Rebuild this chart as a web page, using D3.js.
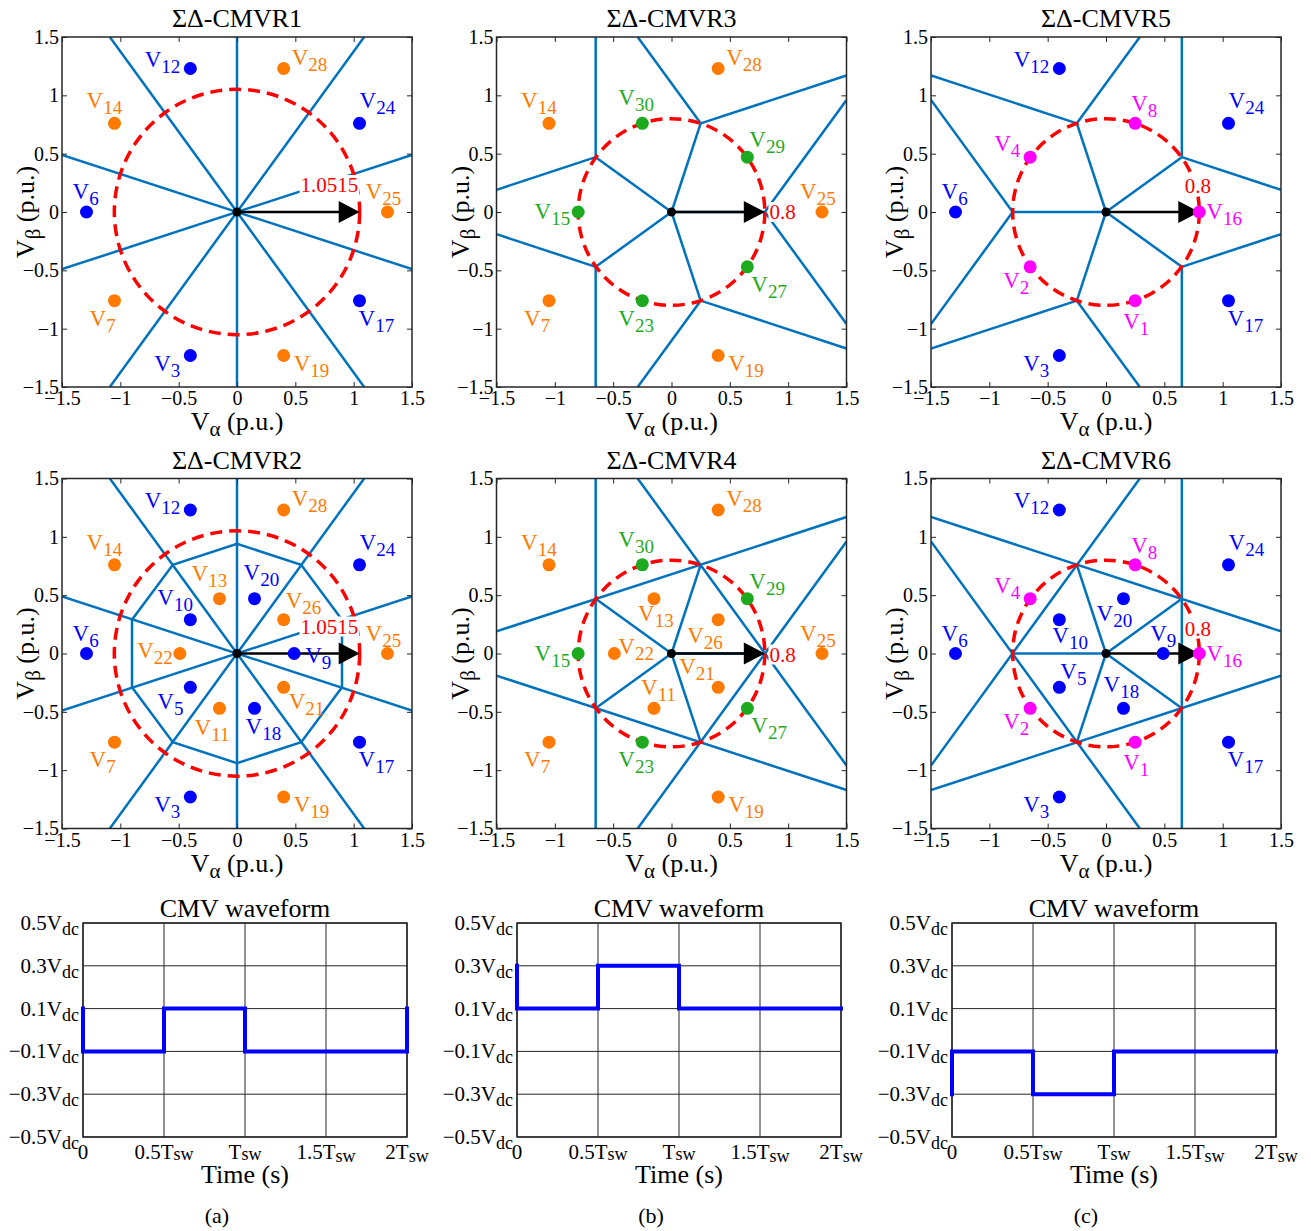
<!DOCTYPE html>
<html lang="en">

<head>
    <meta charset="UTF-8">
    <title>Sigma-Delta CMVR sector maps and CMV waveforms</title>
    <script src="https://d3js.org/d3.v7.min.js"></script>
    <style>
        body { margin: 0; background: #fff; }
        text { font-family: "Liberation Serif", "Times New Roman", serif; }
    </style>
</head>

<body>
    <script>
        // ---- data (p.u.) ----
        const largeBlue = [["V24", 1.05, 0.76], ["V12", -0.40, 1.23], ["V6", -1.29, 0], ["V3", -0.40, -1.23], ["V17", 1.05, -0.76]];
        const largeOrange = [["V25", 1.29, 0], ["V28", 0.40, 1.23], ["V14", -1.05, 0.76], ["V7", -1.05, -0.76], ["V19", 0.40, -1.23]];
        const mediumGreen = [["V29", 0.65, 0.47], ["V30", -0.25, 0.76], ["V15", -0.80, 0], ["V23", -0.25, -0.76], ["V27", 0.65, -0.47]];
        const mediumMagenta = [["V16", 0.80, 0], ["V8", 0.25, 0.76], ["V4", -0.65, 0.47], ["V2", -0.65, -0.47], ["V1", 0.25, -0.76]];
        const smallBlue = [["V9", 0.49, 0], ["V20", 0.15, 0.47], ["V10", -0.40, 0.29], ["V5", -0.40, -0.29], ["V18", 0.15, -0.47]];
        const smallOrange = [["V26", 0.40, 0.29], ["V13", -0.15, 0.47], ["V22", -0.49, 0], ["V11", -0.15, -0.47], ["V21", 0.40, -0.29]];

        // sector boundaries [x1, y1, x2, y2]
        const radialLines = [[-1.5, -0.49, 1.5, 0.49], [-1.09, -1.5, 1.09, 1.5], [0, -1.5, 0, 1.5], [-1.09, 1.5, 1.09, -1.5], [-1.5, 0.49, 1.5, -0.49]];
        const decagon = [[0.90, 0.29], [0.55, 0.76], [0, 0.94], [-0.55, 0.76], [-0.90, 0.29], [-0.90, -0.29], [-0.55, -0.76], [0, -0.94], [0.55, -0.76], [0.90, -0.29]];
        const cornersA = [[0.80, 0], [0.25, 0.76], [-0.65, 0.47], [-0.65, -0.47], [0.25, -0.76]];
        const cornersB = [[0.65, 0.47], [-0.25, 0.76], [-0.80, 0], [-0.25, -0.76], [0.65, -0.47]];
        const outerA = [[0.80, 0, 1.5, 0.96], [0.80, 0, 1.5, -0.96], [0.25, 0.76, -0.29, 1.5], [0.25, 0.76, 1.5, 1.17],
            [-0.65, 0.47, -0.65, 1.5], [-0.65, 0.47, -1.5, 0.19], [-0.65, -0.47, -0.65, -1.5], [-0.65, -0.47, -1.5, -0.19],
            [0.25, -0.76, -0.29, -1.5], [0.25, -0.76, 1.5, -1.17]];
        const starA = [[-0.29, 1.5, 1.5, -0.96], [-0.29, -1.5, 1.5, 0.96], [-1.5, 0.19, 1.5, 1.17], [-1.5, -0.19, 1.5, -1.17], [-0.65, -1.5, -0.65, 1.5]];
        const outerB = [[0.65, 0.47, 0.65, 1.5], [0.65, 0.47, 1.5, 0.19], [-0.25, 0.76, 0.29, 1.5], [-0.25, 0.76, -1.5, 1.17],
            [-0.80, 0, -1.5, 0.96], [-0.80, 0, -1.5, -0.96], [-0.25, -0.76, 0.29, -1.5], [-0.25, -0.76, -1.5, -1.17],
            [0.65, -0.47, 0.65, -1.5], [0.65, -0.47, 1.5, -0.19]];
        const starB = [[0.65, -1.5, 0.65, 1.5], [-1.5, 1.17, 1.5, 0.19], [-1.5, -1.17, 1.5, -0.19], [0.29, 1.5, -1.5, -0.96], [0.29, -1.5, -1.5, 0.96]];

        const vecTicks = [-1.5, -1, -0.5, 0, 0.5, 1, 1.5];

        // CMV waveforms (time in Tsw, level in Vdc)
        const cmvTimeA = [0, 0, 0.5, 0.5, 1, 1, 2, 2];
        const cmvLevelA = [0.1, -0.1, -0.1, 0.1, 0.1, -0.1, -0.1, 0.1];
        const cmvTimeB = [0, 0, 0.5, 0.5, 1, 1, 2];
        const cmvLevelB = [0.3, 0.1, 0.1, 0.3, 0.3, 0.1, 0.1];
        const cmvTimeC = [0, 0, 0.5, 0.5, 1, 1, 2];
        const cmvLevelC = [-0.3, -0.1, -0.1, -0.3, -0.3, -0.1, -0.1];
        const cmvYTicks = [-0.5, -0.3, -0.1, 0.1, 0.3, 0.5];
        const timeTicks = [0, 0.5, 1, 1.5, 2];
        const timeTickMain = ["0", "0.5T", "T", "1.5T", "2T"];
        const timeTickSub = ["", "sw", "sw", "sw", "sw"];

        // ---- styles / layout ----
        const colors = { blue: "#0000ff", orange: "#ff7a00", green: "#1eaa1e", magenta: "#ff00ff", line: "#0072bd", red: "#ff0000" };
        const S = 350;
        const fmt = v => v < 0 ? "\u2212" + Math.abs(v) : String(v);

        // label placement: [anchor, dx, dy] from dot centre (px)
        const largeOffsets = {
            V12: ["end", -10, -2], V28: ["start", 8, -4], V24: ["start", 0, -15], V14: ["start", -28, -15],
            V6: ["start", -14, -13], V25: ["start", -22, -13], V7: ["start", -25, 25], V17: ["start", -1, 25],
            V3: ["end", -10, 15], V19: ["start", 10, 15]
        };
        const greenOffsets = { V30: ["start", -24, -18], V29: ["start", 2, -10], V15: ["end", -8, 7], V27: ["start", 4, 25], V23: ["start", -24, 25] };
        const magentaOffsets = { V8: ["start", -4, -12], V4: ["start", -36, -6], V16: ["start", 7, 7], V2: ["start", -27, 21], V1: ["start", -12, 28] };
        const small2Offsets = {
            V13: ["start", -28, -18], V20: ["start", -11, -19], V10: ["start", -33, -15], V26: ["start", 2, -12], V22: ["end", -7, 4],
            V9: ["start", 11, 9], V5: ["start", -33, 22], V21: ["start", 5, 22], V11: ["start", -25, 27], V18: ["start", -9, 26]
        };
        const small4Offsets = { V13: ["start", -16, 22], V26: ["start", -31, 23], V22: ["start", 4, 0], V21: ["start", -39, -13], V11: ["start", -13, -13] };
        const small6Offsets = { V20: ["start", -27, 22], V10: ["start", -7, 23], V9: ["start", -13, -13], V5: ["start", 1, -8], V18: ["start", -20, -16] };

        const panels = [
            { title: "ΣΔ-CMVR1", x0: 62, y0: 37, groups: [[largeBlue, "blue"], [largeOrange, "orange"]], segs: radialLines, rays: [], poly: null,
              radius: 1.0515, value: "1.0515", vx: 1.04, vdy: -20, vanchor: "end", offsets: [largeOffsets] },
            { title: "ΣΔ-CMVR3", x0: 496.5, y0: 37, groups: [[largeOrange, "orange"], [mediumGreen, "green"]], segs: outerA, rays: cornersA, poly: null,
              radius: 0.8, value: "0.8", vx: 0.84, vdy: 7, vanchor: "start", offsets: [largeOffsets, greenOffsets] },
            { title: "ΣΔ-CMVR5", x0: 931, y0: 37, groups: [[largeBlue, "blue"], [mediumMagenta, "magenta"]], segs: outerB, rays: cornersB, poly: null,
              radius: 0.8, value: "0.8", vx: 0.675, vdy: -19, vanchor: "start", offsets: [largeOffsets, magentaOffsets] },
            { title: "ΣΔ-CMVR2", x0: 62, y0: 478.5, groups: [[largeBlue, "blue"], [largeOrange, "orange"], [smallBlue, "blue"], [smallOrange, "orange"]],
              segs: radialLines, rays: [], poly: decagon, radius: 1.0515, value: "1.0515", vx: 1.04, vdy: -20, vanchor: "end", offsets: [largeOffsets, small2Offsets] },
            { title: "ΣΔ-CMVR4", x0: 496.5, y0: 478.5, groups: [[largeOrange, "orange"], [mediumGreen, "green"], [smallOrange, "orange"]],
              segs: starA, rays: cornersA, poly: null, radius: 0.8, value: "0.8", vx: 0.84, vdy: 8, vanchor: "start", offsets: [largeOffsets, greenOffsets, small4Offsets] },
            { title: "ΣΔ-CMVR6", x0: 931, y0: 478.5, groups: [[largeBlue, "blue"], [mediumMagenta, "magenta"], [smallBlue, "blue"]],
              segs: starB, rays: cornersB, poly: null, radius: 0.8, value: "0.8", vx: 0.675, vdy: -18, vanchor: "start", offsets: [largeOffsets, magentaOffsets, small6Offsets] }
        ];

        const svg = d3.select("body").append("svg").attr("width", 1311).attr("height", 1231);

        function vLabel(g, x, y, name, anchor, color) {
            const t = g.append("text").attr("x", x).attr("y", y).attr("text-anchor", anchor)
                .attr("fill", color).style("font-size", "23px");
            t.append("tspan").text("V");
            t.append("tspan").attr("dy", 6).style("font-size", "19px").text(name.slice(1));
        }

        panels.forEach((p, pi) => {
            const g = svg.append("g").attr("transform", "translate(" + p.x0 + "," + p.y0 + ")");
            const x = d3.scaleLinear().domain([-1.5, 1.5]).range([0, S]);
            const y = d3.scaleLinear().domain([-1.5, 1.5]).range([S, 0]);

            g.append("clipPath").attr("id", "clip" + pi).append("rect").attr("width", S).attr("height", S);
            const plot = g.append("g").attr("clip-path", "url(#clip" + pi + ")");

            // boundaries
            const allSegs = p.segs.concat(p.rays.map(c => [0, 0, c[0], c[1]]));
            plot.selectAll("line.seg").data(allSegs).enter().append("line")
                .attr("x1", d => x(d[0])).attr("y1", d => y(d[1]))
                .attr("x2", d => x(d[2])).attr("y2", d => y(d[3]))
                .attr("stroke", colors.line).attr("stroke-width", 2.5);
            if (p.poly) {
                plot.append("path")
                    .attr("d", d3.line().x(d => x(d[0])).y(d => y(d[1])).curve(d3.curveLinearClosed)(p.poly))
                    .attr("fill", "none").attr("stroke", colors.line).attr("stroke-width", 2.5);
            }

            // reference circle
            plot.append("circle").attr("cx", x(0)).attr("cy", y(0)).attr("r", x(p.radius) - x(0))
                .attr("fill", "none").attr("stroke", colors.red).attr("stroke-width", 3.5)
                .attr("stroke-dasharray", "12 7");

            // arrow
            const tip = x(p.radius);
            g.append("line").attr("x1", x(0)).attr("y1", y(0)).attr("x2", tip - 18).attr("y2", y(0))
                .attr("stroke", "#000").attr("stroke-width", 2.5);
            g.append("path").attr("d", "M" + tip + "," + y(0) + "L" + (tip - 21) + "," + (y(0) - 11) + "L" + (tip - 21) + "," + (y(0) + 11) + "Z")
                .attr("fill", "#000");
            g.append("circle").attr("cx", x(0)).attr("cy", y(0)).attr("r", 4.5).attr("fill", "#000");

            // value label with white background
            const vt = g.append("text").attr("x", x(p.vx)).attr("y", y(0) + p.vdy).attr("text-anchor", p.vanchor)
                .attr("fill", colors.red).style("font-size", "21px").text(p.value);
            const bb = vt.node().getBBox();
            g.insert("rect", function () { return vt.node(); })
                .attr("x", bb.x - 1).attr("y", bb.y + 2).attr("width", bb.width + 2).attr("height", bb.height - 4)
                .attr("fill", "#fff");

            // vectors
            const offs = Object.assign({}, ...p.offsets);
            p.groups.forEach(([vecs, col]) => {
                g.selectAll(null).data(vecs).enter().append("circle")
                    .attr("cx", d => x(d[1])).attr("cy", d => y(d[2])).attr("r", 6.5).attr("fill", colors[col]);
                vecs.forEach(d => {
                    const o = offs[d[0]];
                    vLabel(g, x(d[1]) + o[1], y(d[2]) + o[2], d[0], o[0], colors[col]);
                });
            });

            // axes (MATLAB style, inward ticks)
            const tickStyle = sel => {
                sel.select(".domain").remove();
                sel.selectAll(".tick line").attr("stroke", "#262626");
                sel.selectAll(".tick text").style("font-size", "20px").attr("fill", "#000");
            };
            g.append("g").attr("transform", "translate(0," + S + ")")
                .call(d3.axisBottom(x).tickValues(vecTicks).tickFormat(fmt).tickSizeInner(-5).tickSizeOuter(0).tickPadding(4))
                .call(tickStyle);
            g.append("g")
                .call(d3.axisLeft(y).tickValues(vecTicks).tickFormat(fmt).tickSizeInner(-5).tickSizeOuter(0).tickPadding(3))
                .call(tickStyle);
            g.append("g").call(d3.axisTop(x).tickValues(vecTicks).tickFormat("").tickSizeInner(-5).tickSizeOuter(0)).call(tickStyle);
            g.append("g").attr("transform", "translate(" + S + ",0)")
                .call(d3.axisRight(y).tickValues(vecTicks).tickFormat("").tickSizeInner(-5).tickSizeOuter(0)).call(tickStyle);
            g.append("rect").attr("width", S).attr("height", S).attr("fill", "none")
                .attr("stroke", "#262626").attr("stroke-width", 1.5);

            // title and axis labels
            g.append("text").attr("x", S / 2).attr("y", -10).attr("text-anchor", "middle")
                .style("font-size", "26px").text(p.title);
            const xl = g.append("text").attr("x", S / 2).attr("y", S + 43).attr("text-anchor", "middle").style("font-size", "26px");
            xl.append("tspan").text("V");
            xl.append("tspan").attr("dy", 6).style("font-size", "21px").text("α");
            xl.append("tspan").attr("dy", -6).text(" (p.u.)");
            const yl = g.append("text").attr("transform", "translate(-28," + (S / 2) + ") rotate(-90)")
                .attr("text-anchor", "middle").style("font-size", "26px");
            yl.append("tspan").text("V");
            yl.append("tspan").attr("dy", 6).style("font-size", "21px").text("β");
            yl.append("tspan").attr("dy", -6).text(" (p.u.)");
        });

        // ---- CMV waveforms ----
        const cmvPanels = [
            { x0: 83, t: cmvTimeA, v: cmvLevelA, tag: "(a)" },
            { x0: 517, t: cmvTimeB, v: cmvLevelB, tag: "(b)" },
            { x0: 952, t: cmvTimeC, v: cmvLevelC, tag: "(c)" }
        ];
        const W = 324, H = 214, cmvTop = 923;

        cmvPanels.forEach(p => {
            const g = svg.append("g").attr("transform", "translate(" + p.x0 + "," + cmvTop + ")");
            const x = d3.scaleLinear().domain([0, 2]).range([0, W]);
            const y = d3.scaleLinear().domain([-0.5, 0.5]).range([H, 0]);

            g.selectAll("line.gx").data(timeTicks).enter().append("line")
                .attr("x1", d => x(d)).attr("x2", d => x(d)).attr("y1", 0).attr("y2", H)
                .attr("stroke", "#262626").attr("stroke-width", 1);
            g.selectAll("line.gy").data(cmvYTicks).enter().append("line")
                .attr("x1", 0).attr("x2", W).attr("y1", d => y(d)).attr("y2", d => y(d))
                .attr("stroke", "#262626").attr("stroke-width", 1);
            g.append("rect").attr("width", W).attr("height", H).attr("fill", "none")
                .attr("stroke", "#262626").attr("stroke-width", 1.5);

            const pts = p.t.map((t, i) => [t, p.v[i]]);
            g.append("path").attr("d", d3.line().x(d => x(d[0])).y(d => y(d[1]))(pts))
                .attr("fill", "none").attr("stroke", colors.blue).attr("stroke-width", 4)
                .attr("stroke-linejoin", "miter").attr("stroke-linecap", "square");

            // y tick labels
            cmvYTicks.forEach(v => {
                const t = g.append("text").attr("x", -4).attr("y", y(v) + 7).attr("text-anchor", "end")
                    .style("font-size", "21px").attr("fill", "#000");
                t.append("tspan").text(fmt(v) + "V");
                t.append("tspan").attr("dy", 5).style("font-size", "18px").text("dc");
            });
            // x tick labels
            timeTicks.forEach((tv, i) => {
                const t = g.append("text").attr("x", x(tv)).attr("y", H + 22).attr("text-anchor", "middle")
                    .style("font-size", "21px").attr("fill", "#000");
                t.append("tspan").text(timeTickMain[i]);
                if (timeTickSub[i]) t.append("tspan").attr("dy", i > 2 ? 3 : 1).style("font-size", "18px").text(timeTickSub[i]);
            });

            g.append("text").attr("x", W / 2).attr("y", -6).attr("text-anchor", "middle")
                .style("font-size", "26px").text("CMV waveform");
            g.append("text").attr("x", W / 2).attr("y", H + 46).attr("text-anchor", "middle")
                .style("font-size", "26px").text("Time (s)");
            g.append("text").attr("x", W / 2 - 28).attr("y", H + 86).attr("text-anchor", "middle")
                .style("font-size", "22px").text(p.tag);
        });
    </script>
</body>

</html>
